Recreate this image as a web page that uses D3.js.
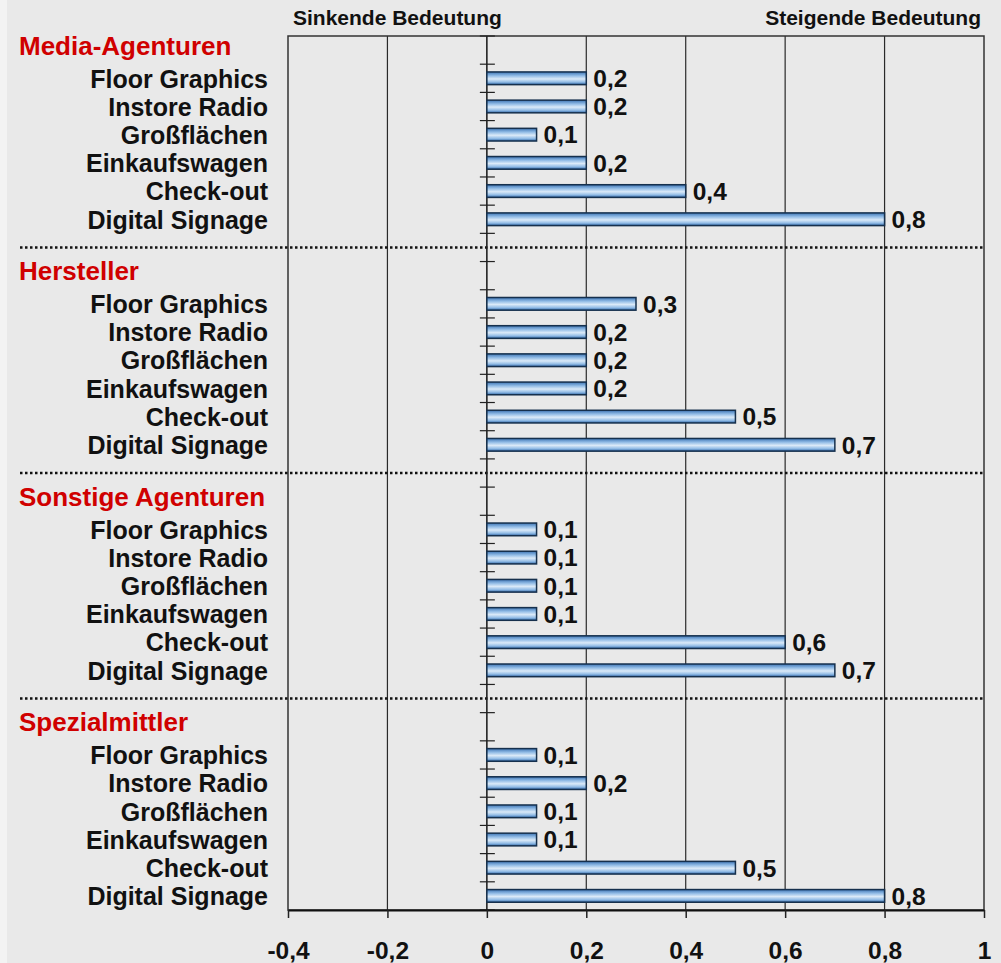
<!DOCTYPE html>
<html>
<head>
<meta charset="utf-8">
<script src="https://cdn.jsdelivr.net/npm/d3@7"></script>
<style>
  body { margin: 0; background: #e9e9e9; }
  svg { display: block; font-family: "Liberation Sans", Arial, sans-serif; font-weight: bold; }
</style>
</head>
<body>
<div id="chart"></div>
<script>
// data
var groups = ["Media-Agenturen", "Hersteller", "Sonstige Agenturen", "Spezialmittler"];
var items = ["Floor Graphics", "Instore Radio", "Großflächen", "Einkaufswagen", "Check-out", "Digital Signage"];
var mediaValues = [0.2, 0.2, 0.1, 0.2, 0.4, 0.8];
var herstellerValues = [0.3, 0.2, 0.2, 0.2, 0.5, 0.7];
var sonstigeValues = [0.1, 0.1, 0.1, 0.1, 0.6, 0.7];
var spezialValues = [0.1, 0.2, 0.1, 0.1, 0.5, 0.8];
var xTicks = [-0.4, -0.2, 0, 0.2, 0.4, 0.6, 0.8, 1];
var topLeftLabel = "Sinkende Bedeutung";
var topRightLabel = "Steigende Bedeutung";

var groupValues = [mediaValues, herstellerValues, sonstigeValues, spezialValues];

var W = 1001, H = 963;
var plot = {l: 288, r: 984, t: 36, b: 910};

// one row per header, per bar and per separator
var rows = [];
groups.forEach(function(g, gi){
    rows.push({key: "h" + gi, type: "header", label: g});
    items.forEach(function(it, ii){
        rows.push({key: "b" + gi + "_" + ii, type: "bar", label: it, value: groupValues[gi][ii]});
    });
    if (gi < groups.length - 1) rows.push({key: "s" + gi, type: "sep"});
});

var x = d3.scaleLinear().domain([-0.4, 1]).range([plot.l, plot.r]);
var y = d3.scaleBand().domain(rows.map(function(d){ return d.key; })).range([plot.t, plot.b]);
var barH = y.bandwidth() * 0.45;

var loc = d3.formatLocale({decimal: ",", thousands: ".", grouping: [3], currency: ["", "€"], minus: "-"});
var tickFmt = loc.format(".1~f");
var valFmt = loc.format(".1f");

var svg = d3.select("#chart").append("svg")
    .attr("width", W)
    .attr("height", H);

svg.append("rect").attr("width", W).attr("height", H).attr("fill", "#e9e9e9");
svg.append("rect").attr("width", 7).attr("height", H).attr("fill", "#f3f3f3");

var defs = svg.append("defs");
var grad = defs.append("linearGradient")
    .attr("id", "barGrad")
    .attr("x1", 0).attr("y1", 0).attr("x2", 0).attr("y2", 1);
grad.append("stop").attr("offset", "0%").attr("stop-color", "#3c74b4");
grad.append("stop").attr("offset", "30%").attr("stop-color", "#92bce6");
grad.append("stop").attr("offset", "55%").attr("stop-color", "#dbeaf8");
grad.append("stop").attr("offset", "80%").attr("stop-color", "#92bce6");
grad.append("stop").attr("offset", "100%").attr("stop-color", "#2f66a6");

// vertical grid lines
svg.append("g")
    .selectAll("line")
    .data(xTicks.filter(function(d){ return d !== 0 && d !== -0.4 && d !== 1; }))
    .enter().append("line")
    .attr("x1", function(d){ return x(d); })
    .attr("x2", function(d){ return x(d); })
    .attr("y1", plot.t).attr("y2", plot.b)
    .attr("stroke", "#2a2a2a")
    .attr("stroke-width", 1.2);

// plot frame
svg.append("rect")
    .attr("x", plot.l).attr("y", plot.t)
    .attr("width", plot.r - plot.l).attr("height", plot.b - plot.t)
    .attr("fill", "none")
    .attr("stroke", "#333")
    .attr("stroke-width", 1.5);

// dotted separators
svg.append("g")
    .selectAll("line")
    .data(rows.filter(function(d){ return d.type === "sep"; }))
    .enter().append("line")
    .attr("x1", 20).attr("x2", plot.r)
    .attr("y1", function(d){ return y(d.key) + y.bandwidth() / 2; })
    .attr("y2", function(d){ return y(d.key) + y.bandwidth() / 2; })
    .attr("stroke", "#111")
    .attr("stroke-width", 2.5)
    .attr("stroke-dasharray", "2.5,2.5");

// zero line with category ticks
svg.append("line")
    .attr("x1", x(0)).attr("x2", x(0))
    .attr("y1", plot.t).attr("y2", plot.b)
    .attr("stroke", "#222")
    .attr("stroke-width", 1.6);

var bounds = rows.map(function(d){ return y(d.key); }).concat([plot.b]);
svg.append("g")
    .selectAll("line")
    .data(bounds)
    .enter().append("line")
    .attr("x1", x(0) - 7).attr("x2", x(0) + 8)
    .attr("y1", function(d){ return d; })
    .attr("y2", function(d){ return d; })
    .attr("stroke", "#222")
    .attr("stroke-width", 1.2);

// bars
var barRows = rows.filter(function(d){ return d.type === "bar"; });
svg.append("g")
    .selectAll("rect")
    .data(barRows)
    .enter().append("rect")
    .attr("x", x(0))
    .attr("y", function(d){ return y(d.key) + (y.bandwidth() - barH) / 2; })
    .attr("width", function(d){ return x(d.value) - x(0); })
    .attr("height", barH)
    .attr("fill", "url(#barGrad)")
    .attr("stroke", "#16304d")
    .attr("stroke-width", 1.5);

// value labels
svg.append("g")
    .selectAll("text")
    .data(barRows)
    .enter().append("text")
    .attr("x", function(d){ return x(d.value) + 7; })
    .attr("y", function(d){ return y(d.key) + y.bandwidth() / 2; })
    .attr("dy", "0.36em")
    .attr("font-size", 24.5)
    .attr("fill", "#111")
    .text(function(d){ return valFmt(d.value); });

// category labels
svg.append("g")
    .selectAll("text")
    .data(barRows)
    .enter().append("text")
    .attr("x", 268)
    .attr("y", function(d){ return y(d.key) + y.bandwidth() / 2; })
    .attr("dy", "0.37em")
    .attr("text-anchor", "end")
    .attr("font-size", 25)
    .attr("fill", "#111")
    .text(function(d){ return d.label; });

// group headers
svg.append("g")
    .selectAll("text")
    .data(rows.filter(function(d){ return d.type === "header"; }))
    .enter().append("text")
    .attr("x", 19)
    .attr("y", function(d){ return y(d.key) + y.bandwidth() / 2; })
    .attr("dy", "0.17em")
    .attr("font-size", 26)
    .attr("fill", "#d00000")
    .text(function(d){ return d.label; });

// x axis
var xAxis = d3.axisBottom(x).tickValues(xTicks).tickSize(8).tickSizeOuter(0).tickFormat(tickFmt);
var ax = svg.append("g")
    .attr("transform", "translate(0," + plot.b + ")")
    .call(xAxis);
ax.select(".domain").attr("stroke", "#111").attr("stroke-width", 2);
ax.selectAll(".tick line").attr("stroke", "#222").attr("stroke-width", 1.5);
ax.selectAll(".tick text")
    .attr("y", 49).attr("dy", 0)
    .attr("font-size", 24.5)
    .attr("font-family", "'Liberation Sans', Arial, sans-serif")
    .attr("font-weight", "bold")
    .attr("fill", "#111");

// direction labels
svg.append("text")
    .attr("x", 293).attr("y", 25)
    .attr("font-size", 21)
    .attr("fill", "#111")
    .text(topLeftLabel);
svg.append("text")
    .attr("x", 981).attr("y", 25)
    .attr("text-anchor", "end")
    .attr("font-size", 21)
    .attr("fill", "#111")
    .text(topRightLabel);
</script>
</body>
</html>
